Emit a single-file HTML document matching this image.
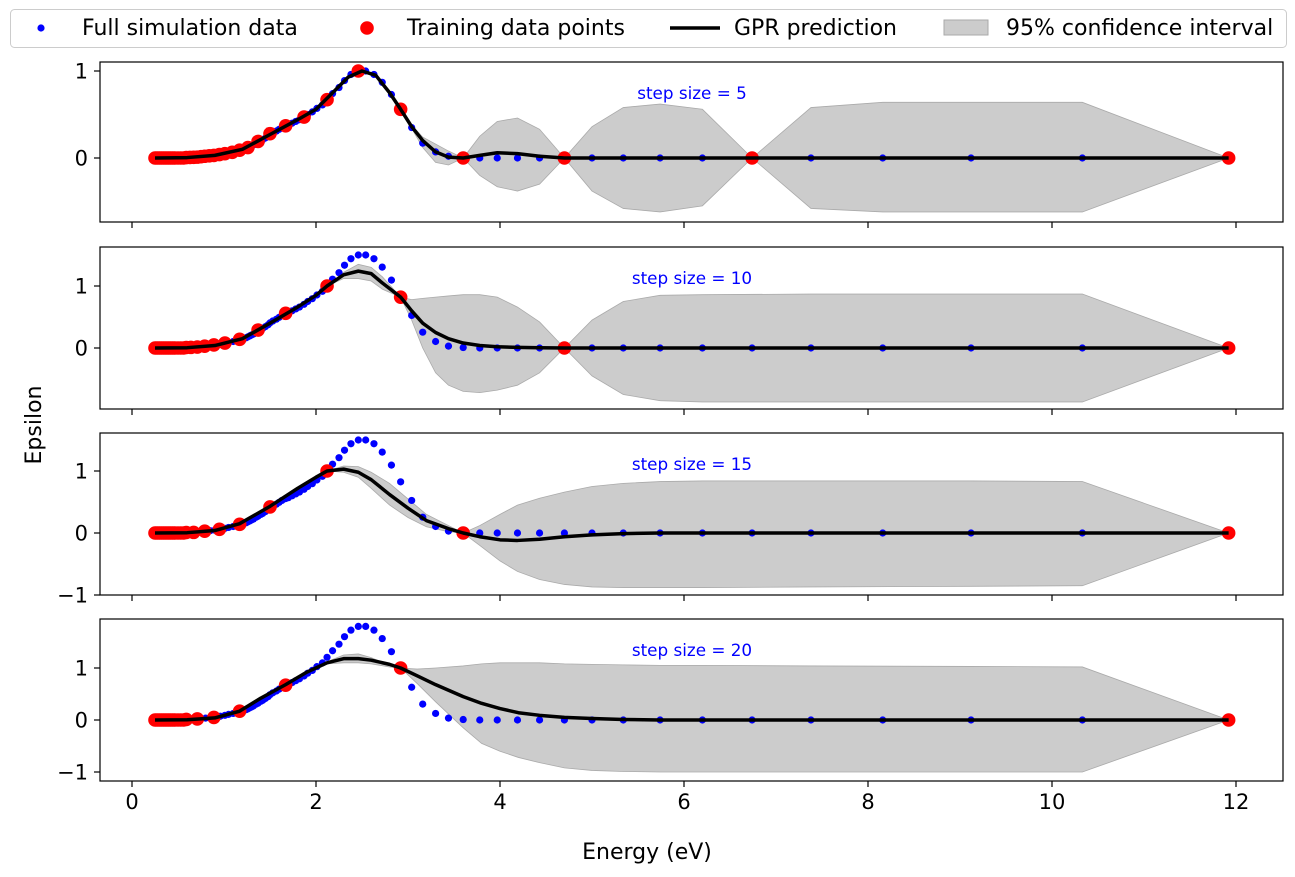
<!DOCTYPE html>
<html><head><meta charset="utf-8"><style>
body{margin:0;background:#fff;}
svg text{font-family:"DejaVu Sans","Liberation Sans",sans-serif;}
</style></head><body>
<svg id="c" width="1295" height="872" xmlns="http://www.w3.org/2000/svg"></svg>
<script>
const stepSizes=[5,10,15,20];
const simScale=[1.0,1.5,1.5,1.8];
const simE=[11.92,10.33,9.12,8.16,7.38,6.74,6.20,5.74,5.34,5.00,4.70,4.43,4.19,3.97,3.78,3.60,3.44,3.30,3.16,3.04,2.92,2.82,2.72,2.63,2.54,2.46,2.38,2.31,2.25,2.18,2.12,2.07,2.01,1.96,1.91,1.87,1.82,1.78,1.74,1.70,1.67,1.63,1.60,1.57,1.53,1.50,1.48,1.45,1.42,1.40,1.37,1.35,1.32,1.30,1.28,1.26,1.24,1.20,1.17,1.13,1.10,1.05,1.01,0.96,0.90,0.85,0.80,0.75,0.70,0.65,0.60,0.55,0.50,0.45,0.40,0.36,0.32,0.29,0.27];
const simV=[0,0,0,0,0,0,0,0,0,0,0,0,0,0,0,0.005,0.02,0.07,0.17,0.35,0.55,0.73,0.87,0.96,1.0,1.0,0.96,0.89,0.81,0.74,0.67,0.61,0.57,0.53,0.5,0.47,0.44,0.42,0.4,0.38,0.37,0.35,0.33,0.31,0.29,0.27,0.25,0.23,0.21,0.2,0.18,0.17,0.15,0.14,0.13,0.12,0.11,0.1,0.09,0.08,0.07,0.06,0.05,0.04,0.03,0.025,0.02,0.015,0.01,0.008,0.005,0.003,0,0,0,0,0,0,0];
const lowE=[0.25,0.27,0.29,0.31,0.33,0.35,0.37,0.39,0.41,0.43,0.45,0.47,0.50,0.53,0.56];
const trainE=[
 [11.92,6.74,4.70,3.60,2.92,2.46,2.12,1.87,1.67,1.50,1.37,1.26,1.17,1.09,1.01,0.95,0.89,0.84,0.79,0.75,0.71,0.67,0.63,0.59],
 [11.92,4.70,2.92,2.12,1.67,1.37,1.17,1.01,0.89,0.79,0.71,0.64,0.59],
 [11.92,3.60,2.12,1.50,1.17,0.95,0.79,0.67,0.59],
 [11.92,2.92,1.67,1.17,0.89,0.71,0.59]];
const trainV=[
 [0,0,0,0,0.56,1.0,0.67,0.47,0.37,0.28,0.19,0.12,0.09,0.065,0.05,0.04,0.03,0.025,0.02,0.015,0.01,0.008,0.006,0.005],
 [0,0,0.82,1.0,0.56,0.29,0.14,0.08,0.05,0.03,0.015,0.01,0.008],
 [0,0,1.0,0.42,0.14,0.06,0.03,0.01,0.008],
 [0,1.0,0.67,0.17,0.05,0.02,0.01]];
const gprE=[
 [0.25,0.6,0.9,1.2,1.5,1.8,2.0,2.2,2.35,2.5,2.65,2.8,2.92,3.04,3.16,3.3,3.44,3.6,3.78,3.97,4.19,4.43,4.7,5.0,5.34,5.74,6.2,6.74,7.38,8.16,9.12,10.33,11.92],
 [0.25,0.6,0.9,1.2,1.5,1.8,2.0,2.12,2.3,2.46,2.6,2.72,2.92,3.04,3.16,3.3,3.44,3.6,3.78,3.97,4.19,4.43,4.7,5.0,5.34,5.74,6.2,7.38,9.12,10.33,11.92],
 [0.25,0.6,0.9,1.17,1.5,1.8,2.0,2.12,2.3,2.46,2.6,2.8,3.0,3.2,3.44,3.6,3.78,4.0,4.19,4.43,4.7,5.0,5.34,5.74,6.2,7.38,9.12,10.33,11.92],
 [0.25,0.6,0.9,1.17,1.4,1.67,1.9,2.12,2.3,2.46,2.6,2.8,2.92,3.1,3.3,3.6,3.8,4.0,4.2,4.43,4.7,5.0,5.34,5.74,6.2,7.38,9.12,10.33,11.92]];
const gprMean=[
 [0,0.005,0.03,0.1,0.27,0.44,0.56,0.77,0.93,1.0,0.95,0.75,0.56,0.36,0.2,0.07,0.01,0,0.03,0.06,0.05,0.02,0,0,0,0,0,0,0,0,0,0,0],
 [0,0.005,0.04,0.15,0.4,0.66,0.85,1.0,1.18,1.24,1.2,1.05,0.82,0.6,0.4,0.25,0.15,0.08,0.04,0.02,0.01,0.005,0,0,0,0,0,0,0,0,0],
 [0,0.005,0.04,0.15,0.43,0.72,0.9,1.0,1.03,0.98,0.86,0.62,0.4,0.2,0.07,0,-0.06,-0.11,-0.12,-0.1,-0.06,-0.03,-0.01,0,0,0,0,0,0],
 [0,0.005,0.04,0.17,0.42,0.68,0.92,1.1,1.18,1.18,1.15,1.07,1.0,0.85,0.68,0.45,0.32,0.22,0.14,0.09,0.05,0.03,0.01,0,0,0,0,0,0]];
const gprLo=[
 [0,0.005,0.03,0.1,0.27,0.44,0.56,0.77,0.93,1.0,0.95,0.75,0.56,0.34,0.12,-0.05,-0.08,0,-0.2,-0.33,-0.38,-0.3,0,-0.38,-0.58,-0.62,-0.55,0,-0.58,-0.62,-0.62,-0.62,0],
 [0,0.005,0.04,0.15,0.4,0.66,0.85,1.0,1.12,1.12,1.08,0.95,0.82,0.45,0.0,-0.4,-0.6,-0.7,-0.72,-0.68,-0.6,-0.4,0,-0.45,-0.75,-0.85,-0.87,-0.87,-0.87,-0.87,0],
 [0,0.005,0.04,0.15,0.43,0.72,0.9,1.0,0.98,0.9,0.72,0.45,0.25,0.1,0.02,0,-0.2,-0.45,-0.62,-0.75,-0.83,-0.87,-0.88,-0.88,-0.88,-0.87,-0.86,-0.85,0],
 [0,0.005,0.04,0.17,0.42,0.68,0.9,1.08,1.1,1.1,1.08,1.02,1.0,0.7,0.35,-0.15,-0.45,-0.6,-0.72,-0.82,-0.92,-0.97,-0.99,-1.0,-1.0,-1.0,-1.0,-1.0,0]];
const gprHi=[
 [0,0.005,0.03,0.1,0.27,0.44,0.56,0.77,0.93,1.0,0.95,0.75,0.56,0.38,0.24,0.16,0.08,0,0.25,0.42,0.46,0.33,0,0.36,0.58,0.62,0.56,0,0.58,0.64,0.64,0.64,0],
 [0,0.005,0.04,0.15,0.4,0.66,0.85,1.0,1.22,1.35,1.3,1.15,0.82,0.78,0.8,0.82,0.84,0.86,0.86,0.82,0.66,0.42,0,0.45,0.75,0.85,0.86,0.87,0.87,0.87,0],
 [0,0.005,0.04,0.15,0.43,0.72,0.9,1.0,1.08,1.07,0.98,0.8,0.55,0.3,0.12,0,0.12,0.3,0.45,0.56,0.66,0.75,0.8,0.83,0.84,0.84,0.84,0.83,0],
 [0,0.005,0.04,0.17,0.42,0.68,0.94,1.12,1.25,1.27,1.2,1.05,1.0,0.98,1.0,1.04,1.08,1.1,1.1,1.1,1.08,1.07,1.06,1.05,1.05,1.04,1.03,1.02,0]];
const yTicks=[[0,1],[0,1],[-1,0,1],[-1,0,1]];
const xTicks=[0,2,4,6,8,10,12];
const panels=[{t:62,b:222,y0:158,y1:71},{t:247,b:409,y0:348,y1:286},{t:433,b:595,y0:533,y1:471},{t:619,b:781,y0:720,y1:668}];
const L=100,R=1283;
const X=e=>132+92*e;
const NS='http://www.w3.org/2000/svg';
const svg=document.getElementById('c');
function mk(tag,attrs,parent){const el=document.createElementNS(NS,tag);for(const k in attrs)el.setAttribute(k,attrs[k]);(parent||svg).appendChild(el);return el;}
panels.forEach((p,i)=>{
 const Y=v=>p.y0-(p.y1-p.y0)*(-v);
 const g=mk('g',{});
 
 
 const cp=mk('clipPath',{id:'cp'+i},g);mk('rect',{x:L,y:p.t,width:R-L,height:p.b-p.t},cp);
 const pg=mk('g',{'clip-path':'url(#cp'+i+')'},g);
 let d='';gprE[i].forEach((e,k)=>{d+=(k?'L':'M')+X(e)+','+Y(gprHi[i][k]);});
 for(let k=gprE[i].length-1;k>=0;k--)d+='L'+X(gprE[i][k])+','+Y(gprLo[i][k]);
 const ci=mk('path',{d:d+'Z',fill:'#cccccc',stroke:'#aaaaaa','stroke-width':0.8},pg);
 
 
 simE.forEach((e,k)=>{const c=mk('circle',{cx:X(e),cy:Y(simV[k]*simScale[i]),r:3.6,fill:'#0000ff'},pg);
  
  });
 const tr=trainE[i].concat(lowE.filter(e=>e<trainE[i][trainE[i].length-1]));
 tr.forEach((e,k)=>{const v=k<trainV[i].length?trainV[i][k]:0;const c=mk('circle',{cx:X(e),cy:Y(v),r:6.8,fill:'#ff0000'},pg);
  
  });
 let m='';gprE[i].forEach((e,k)=>{m+=(k?'L':'M')+X(e)+','+Y(gprMean[i][k]);});
 const ln=mk('path',{d:m,fill:'none',stroke:'#000','stroke-width':3.5,'stroke-linejoin':'round'},pg);
 
 
 const fr=mk('rect',{x:L,y:p.t,width:R-L,height:p.b-p.t,fill:'none',stroke:'#000','stroke-width':1.2},g);
 
 
 yTicks[i].forEach(v=>{mk('line',{x1:L-6,x2:L,y1:Y(v),y2:Y(v),stroke:'#000','stroke-width':1.2},g);
  const t=mk('text',{x:L-12,y:Y(v)+7.5,'text-anchor':'end','font-size':21},g);t.textContent=v<0?'\u2212'+(-v):v;
  
  });
 xTicks.forEach(v=>{mk('line',{x1:X(v),x2:X(v),y1:p.b,y2:p.b+6,stroke:'#000','stroke-width':1.2},g);
  if(i===3){const t=mk('text',{x:X(v),y:p.b+28,'text-anchor':'middle','font-size':21},g);t.textContent=v;
  
  }});
 const st=mk('text',{x:692,y:p.t+37,'text-anchor':'middle','font-size':16.8,fill:'#0000ff'},g);
 st.textContent='step size = '+stepSizes[i];
 
 
});
</script>
<svg style="position:absolute;left:0;top:0" width="1295" height="872">
<g>
<rect x="10.5" y="9.5" width="1276" height="38" rx="4" fill="#fff" stroke="#ccc"/>
<circle cx="41" cy="28" r="3.6" fill="#0000ff"/>
<text x="82" y="35" font-size="22" font-family="DejaVu Sans, sans-serif">Full simulation data</text>
<circle cx="367" cy="28" r="6.8" fill="#ff0000"/>
<text x="407" y="35" font-size="22" font-family="DejaVu Sans, sans-serif">Training data points</text>
<line x1="670" y1="28" x2="720" y2="28" stroke="#000" stroke-width="3.5"/>
<text x="734" y="35" font-size="22" font-family="DejaVu Sans, sans-serif">GPR prediction</text>
<rect x="944" y="20" width="44" height="15" fill="#ccc" stroke="#aaa"/>
<text x="1006" y="35" font-size="22" font-family="DejaVu Sans, sans-serif">95% confidence interval</text>
</g>
<text x="647" y="859" text-anchor="middle" font-size="22" font-family="DejaVu Sans, sans-serif">Energy (eV)</text>
<text transform="translate(41,425) rotate(-90)" text-anchor="middle" font-size="22" font-family="DejaVu Sans, sans-serif">Epsilon</text>
</svg>
</body></html>
